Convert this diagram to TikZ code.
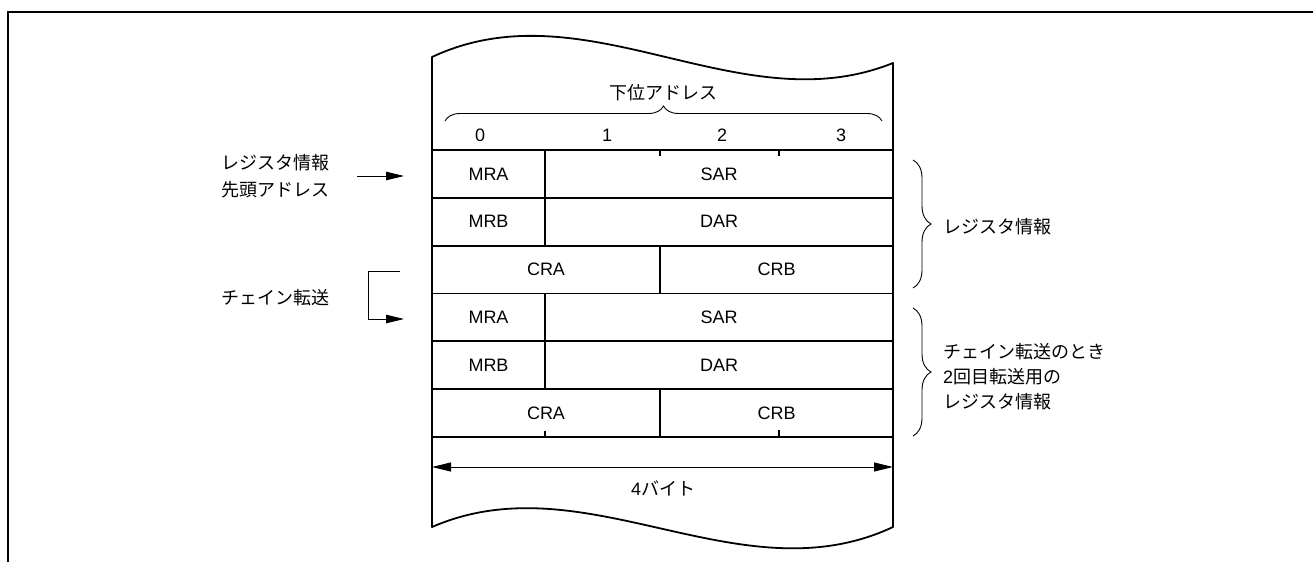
\documentclass[tikz,border=0pt]{standalone}
\usepackage{fontspec}
\setmainfont{Liberation Sans}
\newfontfamily\jp{Noto Sans CJK JP}
\usetikzlibrary{arrows.meta,decorations.pathreplacing}
\begin{document}
\begin{tikzpicture}[x=1pt,y=-1pt,
  every node/.style={font=\fontsize{18}{22}\selectfont, inner sep=0pt},
  cell/.style={draw, line width=1.8pt, minimum height=47.83pt, inner sep=0pt, outer sep=0pt, anchor=north west},
  outline/.style={line width=1.8pt, line join=round},
  frameline/.style={line width=1.7pt},
  tick/.style={line width=1.8pt},
  bracestyle/.style={decorate, decoration={brace, amplitude=#1}, line width=0.9pt},
  arr/.style={line width=1pt, -{Triangle[length=18pt,width=8.5pt]}},
  dblarr/.style={line width=1pt, {Triangle[length=19pt,width=9pt]}-{Triangle[length=19pt,width=9pt]}},
  lbl/.style={anchor=west}
]
\useasboundingbox (0,0) rectangle (1313,562);
% outer frame
\draw[frameline] (8,562) -- (8,12) -- (1313,12);

% cells
\node[cell, minimum width=113pt] (mra1) at (432,150) {MRA};
\node[cell, minimum width=348pt] (sar1) at (545,150) {SAR};
\node[cell, minimum width=113pt] (mrb1) at (432,197.83) {MRB};
\node[cell, minimum width=348pt] (dar1) at (545,197.83) {DAR};
\node[cell, minimum width=228pt] (cra1) at (432,245.67) {CRA};
\node[cell, minimum width=233pt] (crb1) at (660,245.67) {CRB};
\node[cell, minimum width=113pt] (mra2) at (432,293.5) {MRA};
\node[cell, minimum width=348pt] (sar2) at (545,293.5) {SAR};
\node[cell, minimum width=113pt] (mrb2) at (432,341.33) {MRB};
\node[cell, minimum width=348pt] (dar2) at (545,341.33) {DAR};
\node[cell, minimum width=228pt] (cra2) at (432,389.17) {CRA};
\node[cell, minimum width=233pt] (crb2) at (660,389.17) {CRB};

% wavy outline of the memory area
\draw[outline] (432,150) -- (432,57)
  .. controls (586,-15) and (739,125) .. (893,63) -- (893,150);
\draw[outline] (432,437) -- (432,527)
  .. controls (586,460) and (739,599) .. (893,527) -- (893,437);

% ticks
\draw[tick] (660,150) -- (660,156);
\draw[tick] (779,150) -- (779,156);
\draw[tick] (545,437) -- (545,431);
\draw[tick] (779,437) -- (779,430);

% address header
\node (d0) at (480,135) {0};
\node (d1) at (607,135) {1};
\node (d2) at (722,135) {2};
\node (d3) at (841,135) {3};
\draw[bracestyle=15pt] (445,121) -- (882,121);
\node (addr) at (663,93) {\jp 下位アドレス};

% byte width arrow
\coordinate (bl) at (432,467);
\coordinate (br) at (893,467);
\draw[dblarr] (bl) -- (br);
\node (bytes) at (663,488) {4{\jp バイト}};

% left labels
\node[lbl] (reg1) at (221,163) {\jp レジスタ情報};
\node[lbl] (reg2) at (221,190) {\jp 先頭アドレス};
\coordinate (a1s) at (357,176);
\coordinate (a1e) at (404,176);
\draw[arr] (a1s) -- (a1e);

\node[lbl] (chain) at (221,298) {\jp チェイン転送};
\coordinate (c1s) at (400,271);
\coordinate (c1e) at (404,319);
\draw[line width=1pt] (c1s) -- ++(-32,0) coordinate (c1m);
\draw[arr] (c1m) |- (c1e);

% right braces
\draw[bracestyle=18pt] (913,160) -- (913,288);
\node[lbl] (rinfo) at (943,227) {\jp レジスタ情報};
\draw[bracestyle=18pt] (913,308) -- (913,436);
\node[lbl] (t1) at (943,352) {\jp チェイン転送のとき};
\node[lbl] (t2) at (943,377) {2{\jp 回目転送用の}};
\node[lbl] (t3) at (943,402) {\jp レジスタ情報};
\end{tikzpicture}
\end{document}
